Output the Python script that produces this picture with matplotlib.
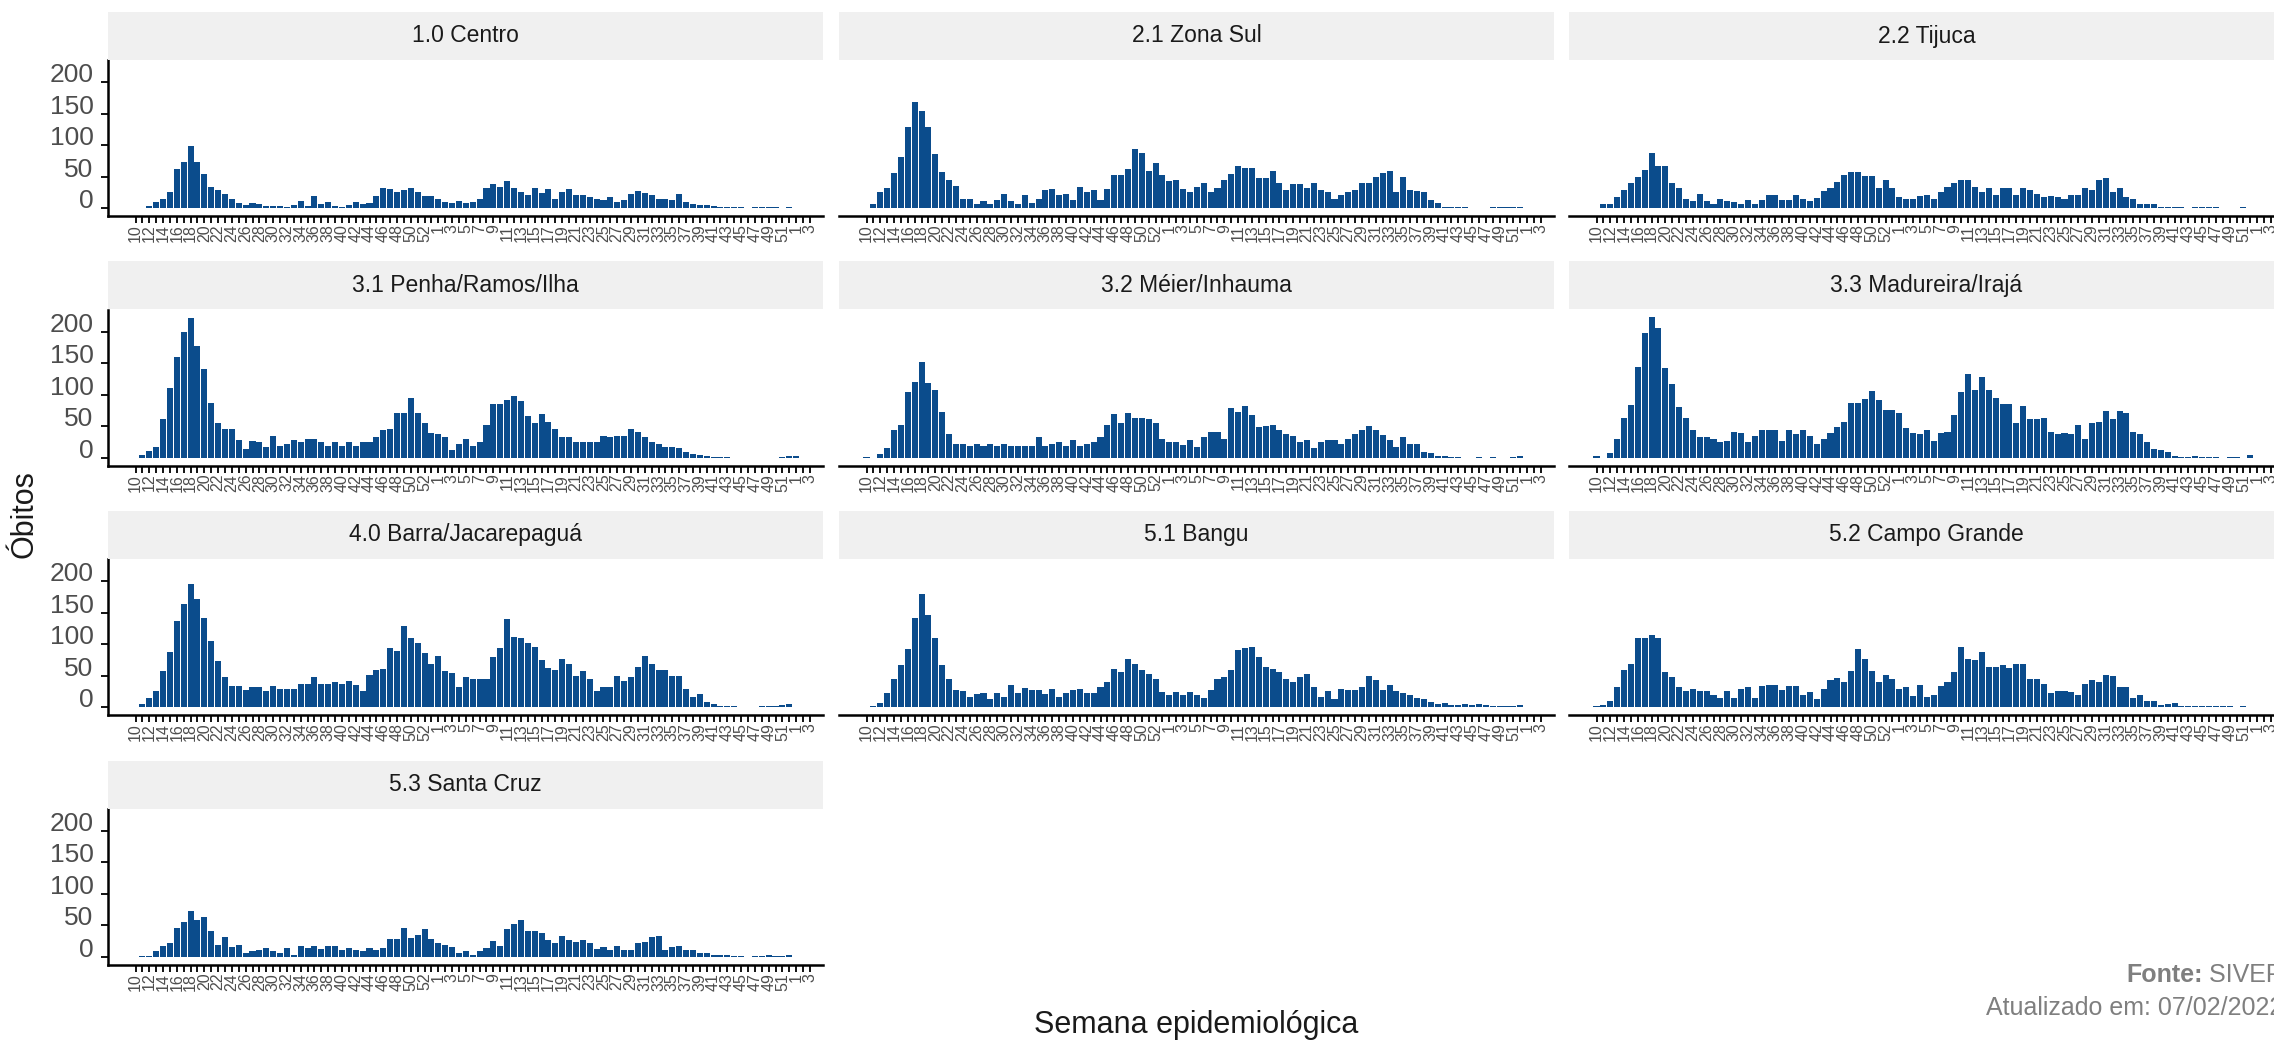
import matplotlib
matplotlib.use("Agg")
import matplotlib.pyplot as plt
from matplotlib.patches import Rectangle

plt.rcParams['font.family'] = ['Liberation Sans', 'DejaVu Sans']

# figure size in pixels (dpi 100)
W, H = 2274, 1040

# semanas epidemiológicas: 2020 (10-53), 2021 (1-52), 2022 (1-3)
weeks_2020 = list(range(10, 54))
weeks_2021 = list(range(1, 53))
weeks_2022 = [1, 2, 3]
week_labels = [str(w) for w in weeks_2020 + weeks_2021 + weeks_2022]

regions = ["1.0 Centro", "2.1 Zona Sul", "2.2 Tijuca",
           "3.1 Penha/Ramos/Ilha", "3.2 Méier/Inhauma", "3.3 Madureira/Irajá",
           "4.0 Barra/Jacarepaguá", "5.1 Bangu", "5.2 Campo Grande",
           "5.3 Santa Cruz"]

centro = [0, 0, 3, 9, 15, 25, 62, 73, 99, 73,
          54, 33, 29, 23, 14, 8, 4, 8, 6, 3,
          3, 3, 2, 5, 11, 3, 19, 6, 9, 3,
          2, 5, 10, 7, 8, 19, 31, 30, 26, 28,
          31, 25, 19, 19, 14, 9, 8, 11, 8, 9,
          15, 32, 38, 34, 43, 31, 26, 20, 31, 24,
          30, 15, 25, 30, 20, 20, 17, 15, 12, 17,
          10, 13, 22, 27, 24, 20, 15, 14, 12, 22,
          10, 7, 5, 4, 3, 2, 2, 1, 1, 0,
          1, 2, 2, 1, 0, 1, 0, 0, 0]

zona_sul = [0, 6, 26, 31, 56, 81, 129, 168, 154, 129,
            86, 57, 44, 35, 15, 15, 7, 11, 7, 12,
            23, 11, 7, 21, 8, 14, 28, 30, 20, 23,
            13, 33, 26, 28, 13, 30, 52, 52, 62, 93,
            87, 59, 72, 52, 43, 44, 30, 26, 33, 39,
            25, 31, 44, 54, 66, 64, 64, 47, 47, 58,
            40, 28, 38, 38, 31, 40, 29, 25, 15, 20,
            25, 28, 39, 40, 50, 56, 58, 26, 50, 28,
            27, 25, 12, 8, 1, 1, 1, 1, 0, 0,
            0, 2, 1, 1, 1, 2, 0, 0, 0]

tijuca = [0, 6, 7, 18, 28, 40, 49, 60, 88, 66,
          66, 40, 32, 15, 11, 22, 11, 7, 15, 11,
          10, 7, 13, 7, 13, 21, 21, 13, 13, 21,
          15, 11, 16, 27, 31, 42, 53, 57, 57, 51,
          51, 32, 44, 31, 17, 15, 15, 19, 20, 15,
          26, 34, 40, 44, 44, 33, 26, 31, 21, 31,
          31, 20, 31, 28, 23, 17, 19, 17, 15, 21,
          21, 31, 28, 44, 47, 26, 31, 17, 15, 7,
          7, 7, 1, 2, 2, 1, 0, 1, 1, 2,
          1, 0, 0, 0, 1, 0, 0, 0, 0]

penha = [0, 4, 11, 17, 61, 110, 160, 200, 222, 177,
         141, 87, 55, 45, 45, 27, 13, 26, 25, 17,
         34, 19, 22, 28, 25, 30, 30, 24, 18, 25,
         18, 25, 18, 25, 24, 33, 43, 45, 71, 71,
         95, 71, 54, 39, 37, 33, 12, 22, 29, 19,
         25, 51, 85, 85, 91, 98, 89, 66, 54, 69,
         56, 45, 33, 32, 25, 25, 25, 25, 34, 33,
         34, 34, 46, 41, 33, 25, 22, 17, 17, 15,
         9, 6, 4, 2, 1, 1, 1, 0, 0, 0,
         0, 0, 0, 0, 1, 2, 3, 0, 0]

meier = [1, 0, 5, 15, 44, 52, 104, 120, 152, 119,
         107, 73, 37, 21, 21, 18, 22, 19, 22, 19,
         22, 19, 19, 19, 19, 32, 19, 22, 25, 19,
         27, 19, 22, 24, 32, 52, 69, 54, 71, 62,
         62, 61, 54, 29, 25, 24, 20, 27, 17, 33,
         40, 41, 29, 78, 73, 81, 67, 48, 50, 51,
         43, 38, 34, 25, 28, 15, 24, 28, 28, 21,
         29, 38, 44, 50, 44, 36, 28, 17, 33, 21,
         22, 9, 7, 3, 2, 1, 1, 0, 0, 1,
         0, 1, 0, 0, 1, 3, 0, 0, 0]

madureira = [2, 0, 7, 30, 63, 84, 144, 197, 223, 206,
             142, 116, 80, 63, 44, 33, 32, 30, 25, 26,
             40, 39, 24, 34, 43, 43, 43, 26, 44, 37,
             44, 34, 21, 30, 39, 49, 56, 86, 87, 93,
             106, 92, 75, 75, 71, 47, 39, 37, 43, 26,
             39, 40, 67, 104, 133, 107, 128, 107, 95, 85,
             85, 55, 81, 61, 61, 62, 40, 38, 39, 38,
             52, 30, 54, 57, 74, 61, 74, 70, 40, 37,
             25, 14, 12, 9, 3, 1, 1, 3, 1, 1,
             1, 0, 1, 1, 0, 4, 0, 0, 0]

barra = [0, 4, 15, 26, 57, 88, 137, 163, 196, 171,
         141, 105, 73, 48, 34, 34, 27, 31, 31, 25,
         34, 28, 28, 28, 36, 36, 48, 36, 36, 39,
         36, 41, 35, 26, 51, 58, 61, 93, 89, 129,
         109, 101, 85, 69, 81, 57, 54, 31, 48, 45,
         45, 45, 80, 94, 139, 111, 109, 102, 96, 75,
         62, 58, 76, 69, 50, 57, 45, 25, 32, 32,
         50, 41, 47, 64, 81, 69, 58, 58, 49, 49,
         28, 16, 20, 8, 5, 2, 1, 1, 0, 0,
         0, 1, 2, 2, 3, 4, 0, 0, 0]

bangu = [0, 1, 6, 22, 45, 67, 92, 141, 179, 146,
         109, 67, 45, 27, 26, 16, 21, 23, 13, 23,
         16, 35, 22, 30, 27, 27, 21, 28, 16, 23,
         27, 28, 22, 23, 31, 39, 60, 56, 77, 68,
         59, 53, 45, 24, 19, 24, 19, 24, 19, 14,
         27, 45, 48, 59, 90, 93, 96, 80, 64, 60,
         56, 45, 40, 47, 52, 32, 16, 26, 12, 28,
         27, 27, 32, 49, 43, 27, 35, 26, 22, 19,
         14, 12, 8, 5, 6, 3, 3, 5, 3, 4,
         3, 2, 1, 1, 2, 3, 0, 0, 0]

campo_grande = [2, 3, 10, 31, 59, 68, 110, 110, 115, 110,
                56, 48, 31, 26, 29, 26, 26, 19, 15, 26,
                15, 28, 31, 14, 34, 35, 35, 27, 34, 34,
                19, 24, 13, 29, 43, 46, 39, 57, 92, 77,
                57, 40, 51, 45, 29, 32, 17, 35, 16, 19,
                33, 40, 56, 95, 76, 75, 88, 64, 64, 67,
                62, 68, 68, 44, 44, 36, 23, 26, 26, 24,
                19, 37, 43, 40, 51, 49, 31, 31, 14, 19,
                9, 9, 3, 4, 6, 2, 1, 1, 1, 1,
                1, 1, 1, 0, 1, 0, 0, 0, 0]

santa_cruz = [0, 1, 1, 8, 17, 22, 46, 54, 73, 58,
              62, 41, 19, 31, 15, 18, 6, 9, 11, 13,
              8, 5, 13, 3, 16, 13, 17, 12, 17, 16,
              11, 14, 11, 9, 14, 11, 14, 27, 27, 46,
              30, 34, 43, 28, 22, 19, 15, 6, 8, 3,
              8, 14, 24, 17, 44, 51, 58, 40, 41, 37,
              26, 22, 32, 26, 23, 26, 22, 12, 15, 11,
              16, 10, 10, 22, 23, 31, 32, 10, 15, 16,
              11, 10, 6, 5, 3, 2, 2, 1, 1, 0,
              1, 1, 2, 1, 1, 2, 0, 0, 0]

series = [centro, zona_sul, tijuca, penha, meier, madureira,
          barra, bangu, campo_grande, santa_cruz]

y_ticks = [0, 50, 100, 150, 200]

BAR = '#0B4C8C'
STRIP = '#F0F0F0'
TXT = '#1A1A1A'
TICK_TXT = '#4D4D4D'

# layout in pixels
col_left = [108, 839, 1569]
panel_w = 715
row_step = 249.5
strip_top0 = 12
strip_h = 48
panel_h = 156


def px_axes(fig, x0, y0, w, h):
    return fig.add_axes([x0 / W, 1 - (y0 + h) / H, w / W, h / H])


fig = plt.figure(figsize=(W / 100, H / 100), dpi=100)
fig.patch.set_facecolor('white')

x = list(range(len(week_labels)))
x_lab = [lab if i % 2 == 0 else '' for i, lab in enumerate(week_labels)]

for k, (name, vals) in enumerate(zip(regions, series)):
    r, c = divmod(k, 3)
    left = col_left[c]
    s_top = strip_top0 + r * row_step
    p_top = s_top + strip_h

    # faixa do título do painel
    fig.patches.append(Rectangle((left / W, 1 - p_top / H), panel_w / W, strip_h / H,
                                 transform=fig.transFigure, facecolor=STRIP,
                                 edgecolor='none', zorder=0))
    fig.text((left + panel_w / 2) / W, 1 - (s_top + strip_h / 2) / H, name,
             ha='center', va='center', fontsize=16.5, color=TXT)

    ax = px_axes(fig, left, p_top, panel_w, panel_h)
    ax.bar(x, vals, width=0.88, color=BAR, linewidth=0)
    ax.set_xlim(-4.0, 99.9)
    ax.set_ylim(-12.7, 235)
    ax.set_facecolor('none')

    for side in ['top', 'right']:
        ax.spines[side].set_visible(False)
    ax.spines['bottom'].set_linewidth(1.8)
    ax.spines['bottom'].set_color('black')

    ax.set_xticks(x, x_lab)
    ax.tick_params(axis='x', length=5, width=1.3, color='black', labelsize=11.5,
                   labelcolor=TICK_TXT, labelrotation=90, pad=1)

    if c == 0:
        ax.spines['left'].set_linewidth(1.8)
        ax.spines['left'].set_color('black')
        ax.set_yticks(y_ticks, [str(v) for v in y_ticks], va='baseline')
        ax.tick_params(axis='y', length=5, width=1.3, color='black', labelsize=19,
                       labelcolor=TICK_TXT, pad=5.5)
    else:
        ax.spines['left'].set_visible(False)
        ax.set_yticks([])

# títulos dos eixos
fig.text(24 / W, 1 - 514 / H, 'Óbitos', rotation=90, ha='center', va='center',
         fontsize=22, color=TXT)
fig.text(1196 / W, 1 - 1033 / H, 'Semana epidemiológica', ha='center',
         va='baseline', fontsize=22, color=TXT)

# legenda da fonte (cortada na borda direita, como no original)
cap_right = 2283
fig.text(cap_right / W, 1 - 1015 / H, 'Atualizado em: 07/02/2022', ha='right',
         va='baseline', fontsize=18, color='#7F7F7F')
src = fig.text(cap_right / W, 1 - 982 / H, ' SIVEP', ha='right', va='baseline',
               fontsize=18, color='#7F7F7F')
renderer = fig.canvas.get_renderer()
src_w = src.get_window_extent(renderer).width
fig.text((cap_right - src_w) / W, 1 - 982 / H, 'Fonte:', ha='right', va='baseline',
         fontsize=18, color='#7F7F7F', fontweight='bold')

fig.savefig('out.png', dpi=100, facecolor='white')
